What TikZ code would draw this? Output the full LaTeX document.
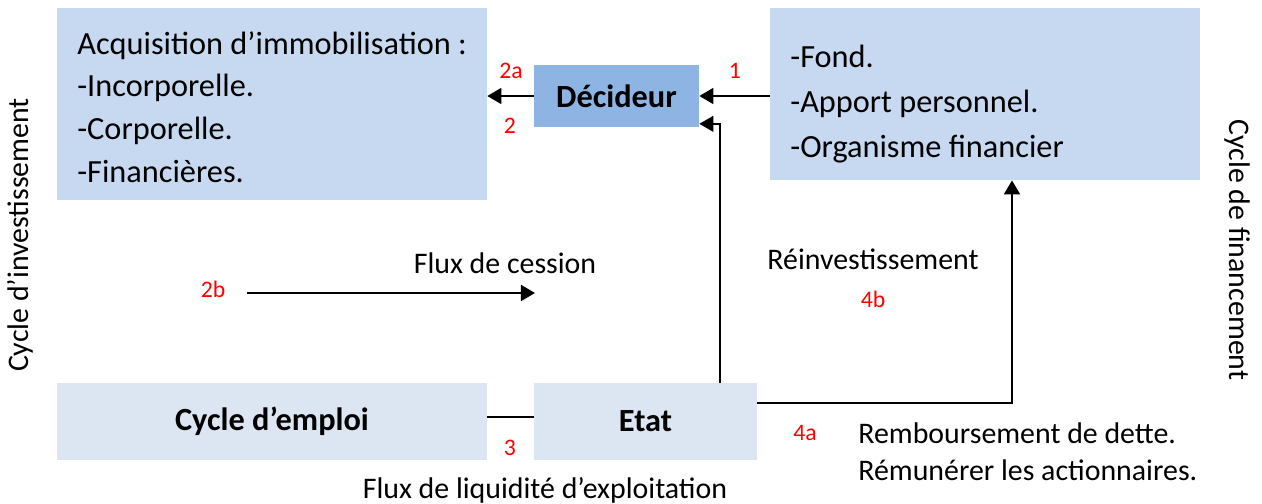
\documentclass[tikz,border=0pt]{standalone}
\usepackage{fontspec}
\setmainfont{Carlito}
\usetikzlibrary{arrows.meta}

\definecolor{boxblue}{HTML}{C6D9F1}
\definecolor{boxpale}{HTML}{DCE6F2}
\definecolor{boxdark}{HTML}{8EB4E3}

\tikzset{
  bloc/.style={rectangle,fill=#1,inner sep=0pt},
  gras/.style={font=\fontsize{18.4}{20}\selectfont\bfseries},
  txt/.style={font=\fontsize{18.4}{24.3}\selectfont,align=left,inner sep=0pt},
  lab/.style={font=\fontsize{17}{20}\selectfont,inner sep=0pt},
  num/.style={text=red,font=\fontsize{13.5}{15}\selectfont,inner sep=0pt},
  flux/.style={line width=1.4pt,-{Triangle[length=8pt,width=9pt]}},
  lien/.style={line width=0.9pt}
}

\begin{document}
\begin{tikzpicture}[x=0.02cm,y=-0.02cm]
\useasboundingbox (0,0) rectangle (1262,504);
% The five boxes
\node[bloc=boxblue,minimum width=8.6cm,minimum height=3.84cm] (acq) at (272,104) {};
\node[bloc=boxdark,minimum width=3.3cm,minimum height=1.24cm,gras] (dec) at (616.5,96) {Décideur};
\node[bloc=boxblue,minimum width=8.6cm,minimum height=3.44cm] (fond) at (985,94) {};
\node[bloc=boxpale,minimum width=8.6cm,minimum height=1.54cm,gras] (emploi) at (272,421.5) {Cycle d’emploi};
\node[bloc=boxpale,minimum width=4.46cm,minimum height=1.54cm,gras] (etat) at (645.5,421.5) {Etat};
% Texts in the two big boxes
\node[txt,anchor=north west] (acqtxt) at (77,31) {Acquisition d’immobilisation :\\-Incorporelle.\\-Corporelle.\\-Financières.};
\node[txt,anchor=north west,font=\fontsize{18.4}{25.5}\selectfont] (fondtxt) at (790,45) {-Fond.\\-Apport personnel.\\-Organisme financier};
% Arrows around the decider
\draw[flux] (dec.west) -- (dec.west -| acq.east);
\draw[flux] (fond.west |- dec) -- (dec.east);
\coordinate (haut) at (720,383);
\draw[flux,line width=0.9pt] (etat.north -| haut) |- ([yshift=2pt]dec.south east);
% Reinvestment towards the funds
\coordinate (reinv) at (1012,403);
\draw[flux] (etat.east |- reinv) -- (reinv) -- (reinv |- fond.south);
% Link between the two bottom boxes
\coordinate (liq) at (510,417);
\draw[lien] (emploi.east |- liq) -- (etat.west |- liq);
% Flow of disposal
\coordinate (cs1) at (247,293);
\coordinate (cs2) at (535,293);
\draw[flux] (cs1) -- (cs2);
% Red numbers
\node[num] (n2a) at (511,71) {2a};
\node[num] (n2) at (510,126) {2};
\node[num] (n1) at (735,71) {1};
\node[num] (n2b) at (213,289) {2b};
\node[num] (n3) at (510,448) {3};
\node[num] (n4a) at (805,433) {4a};
\node[num] (n4b) at (873,299) {4b};
% Flow labels
\node[lab] (cession) at (505,263) {Flux de cession};
\node[lab] (reinvtxt) at (873,259) {Réinvestissement};
\node[lab,anchor=west] (rembours) at (858,433) {Remboursement de dette.};
\node[lab,anchor=west] (remun) at (858,470) {Rémunérer les actionnaires.};
\node[lab] (liquid) at (545,490) {Flux de liquidité d’exploitation};
% Cycle names on the sides
\node[lab,rotate=90] (cycinv) at (20,235) {Cycle d’investissement};
\node[lab,rotate=-90] (cycfin) at (1237,250) {Cycle de financement};
\end{tikzpicture}
\end{document}
